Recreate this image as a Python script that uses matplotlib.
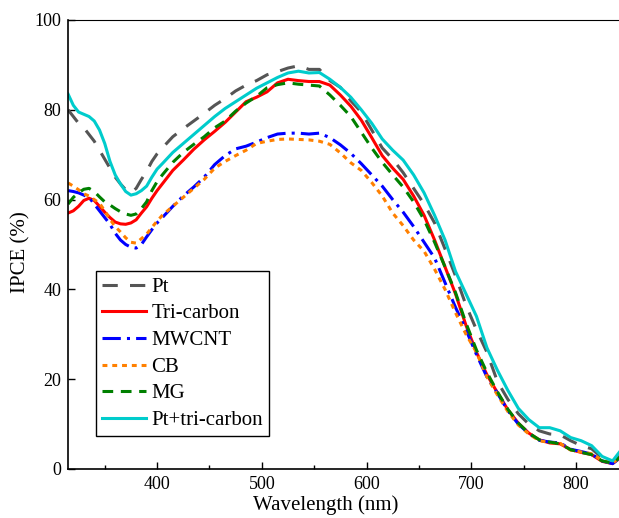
import matplotlib
matplotlib.use("Agg")
import matplotlib.pyplot as plt
import numpy as np

plt.rcParams['font.family'] = ['Liberation Serif', 'DejaVu Serif']

# 5 nm steps in the UV dip, 10 nm afterwards
wavelength = [315, 320, 325, 330, 335, 340, 345, 350, 355, 360, 365, 370, 375, 380,
              385, 390, 395, 400, 405,
              415, 425, 435, 445, 455, 465, 475, 485, 495, 505, 515, 525, 535, 545,
              555, 565, 575, 585, 595, 605, 615, 625, 635, 645, 655, 665, 675, 685,
              695, 705, 715, 725, 735, 745, 755, 765, 775, 785, 795, 805, 815, 825,
              835, 845]

pt = [80, 78.5, 77, 76, 74.5, 73, 71, 69, 67, 65, 63.5, 62.2, 61.5, 62.5,
      64.5, 66.3, 68.5, 70.2, 71.5,
      74, 75.8, 77.5, 79.2, 81, 82.5, 84.2, 85.5, 86.5, 87.8, 88.5, 89.3, 89.8, 89,
      89, 86.5, 85, 82, 79.5, 75.5, 71.5, 69, 66, 62.5, 59, 54.8, 49, 43,
      36.5, 31, 26, 19.5, 15.5, 12.3, 10, 8.5, 7.8, 7.6, 6.3, 5.2, 4.5, 2.5,
      1.5, 3.5]

tri_carbon = [57, 57.5, 58.5, 59.8, 60.3, 59.8, 58.5, 57.2, 56, 55, 54.6, 54.5, 54.8, 55.5,
              57, 58.4, 60.3, 62, 63.5,
              66.5, 68.8, 71.2, 73.3, 75.2, 77.2, 79.5, 81.8, 82.8, 84, 86, 86.8, 86.5, 86.3,
              86.3, 85.5, 83.3, 80.8, 77.7, 73.8, 69.8, 67, 64.5, 60.8, 56.5, 51, 45, 39,
              32, 26, 21, 17, 13.2, 10.2, 8, 6.5, 5.8, 5.6, 4.3, 3.7, 3.2, 1.7,
              1.2, 3]

mwcnt = [62, 61.8, 61.5, 61, 60.5, 59, 57.5, 56, 54.5, 52.5, 51, 50, 49.4, 49.2,
         50, 51.7, 53.3, 54.8, 56,
         58.5, 60.8, 62.8, 65, 67.8, 69.8, 71.3, 71.9, 72.8, 73.8, 74.6, 74.8, 74.8, 74.6,
         74.8, 73.8, 72.2, 70.3, 68, 65.5, 63, 60, 57.2, 54, 50.5, 47, 41.5, 36,
         31, 25.5, 20.5, 16.9, 13, 10, 7.9, 6.4, 6, 5.8, 4.4, 3.9, 3.3, 1.8,
         1.2, 3]

cb = [63.7, 63, 62.2, 61.3, 60.8, 60, 59.2, 57.5, 55.6, 54, 52.8, 51.5, 50.5, 50.3,
      51.3, 52.3, 53.8, 55.2, 56.5,
      58.5, 60.5, 62.5, 64.5, 67, 68.5, 69.8, 71, 72.5, 73, 73.4, 73.5, 73.4, 73.3,
      73, 72.3, 70.4, 68.2, 66.5, 63.8, 60.8, 57, 54.2, 51, 48.5, 44.5, 40, 34.8,
      30, 26, 20.5, 16.5, 12.8, 9.8, 7.8, 6.3, 5.9, 5.7, 4.2, 3.8, 3.4, 1.9,
      1.3, 3.1]

mg = [59, 60.5, 61.5, 62.3, 62.5, 61.8, 60.6, 59.5, 58.8, 58, 57.3, 56.8, 56.5, 56.8,
      58, 59.5, 62, 64, 65.5,
      68.3, 70.5, 72.3, 74, 76, 77.5, 79.7, 81.5, 83, 84.9, 85.6, 86, 85.7, 85.5,
      85.3, 83.3, 81, 78.5, 75, 71.5, 68.3, 65.5, 62.8, 59.5, 55.5, 50.5, 45, 39.3,
      32.5, 26.5, 21.5, 17.2, 13.3, 10.2, 8, 6.5, 6, 5.6, 4.3, 3.7, 3.2, 1.8,
      1.3, 3.2]

pt_tri = [83.5, 81, 79.5, 79, 78.5, 77.5, 75.5, 72.5, 68.5, 65.5, 63.5, 61.8, 61, 61.3,
          62, 63, 65, 66.8, 68,
          70.5, 72.5, 74.5, 76.5, 78.5, 80.3, 81.8, 83.3, 84.8, 86, 87.2, 88.2, 88.6, 88.2,
          88.3, 86.8, 85, 82.8, 80, 77, 73.5, 71, 68.8, 65.5, 61.5, 56.5, 51, 44,
          39, 34, 27, 22, 17.5, 13.5, 11, 9.2, 9.2, 8.5, 7, 6.3, 5.2, 2.8,
          1.8, 4.8]

fig = plt.figure(figsize=(6.19, 5.18), dpi=100)
ax = fig.add_axes([0.110, 0.0946, 0.905, 0.8668])

lw = 2.2
ax.plot(wavelength, pt, color='#555555', lw=lw, dashes=(5, 4), label='Pt')
ax.plot(wavelength, tri_carbon, color='#ff0000', lw=lw, label='Tri-carbon')
ax.plot(wavelength, mwcnt, color='#0000ff', lw=lw, dashes=(6, 2, 1, 2), label='MWCNT')
ax.plot(wavelength, cb, color='#ff8000', lw=lw, dashes=(1.6, 1.6), label='CB')
ax.plot(wavelength, mg, color='#008000', lw=lw, dashes=(3.5, 2.5), label='MG')
ax.plot(wavelength, pt_tri, color='#00cccc', lw=lw, label='Pt+tri-carbon')

ax.set_xlim(315, 850)
ax.set_ylim(0, 100)
ax.set_xticks([400, 500, 600, 700, 800])
ax.set_xticks([350, 450, 550, 650, 750, 850], minor=True)
ax.set_yticks([0, 20, 40, 60, 80, 100])
ax.tick_params(direction='in', labelsize=13, length=5, width=1, pad=5)
ax.tick_params(which='minor', direction='in', length=3, width=1)
ax.spines['top'].set_linewidth(0.8)
ax.spines['left'].set_linewidth(1.2)
ax.spines['bottom'].set_linewidth(1.2)

ax.set_xlabel('Wavelength (nm)', fontsize=15)
ax.xaxis.set_label_coords(0.459, -0.058)
ax.set_ylabel('IPCE (%)', fontsize=15)
ax.yaxis.set_label_coords(-0.068, 0.483)

leg = ax.legend(loc='upper left', bbox_to_anchor=(0.05, 0.441), borderaxespad=0,
                fontsize=15, handlelength=2.1, fancybox=False, edgecolor='black',
                framealpha=1, labelspacing=0.34, borderpad=0.3, handletextpad=0.25)
leg.get_frame().set_linewidth(1)

fig.savefig('out.png', dpi=100)
